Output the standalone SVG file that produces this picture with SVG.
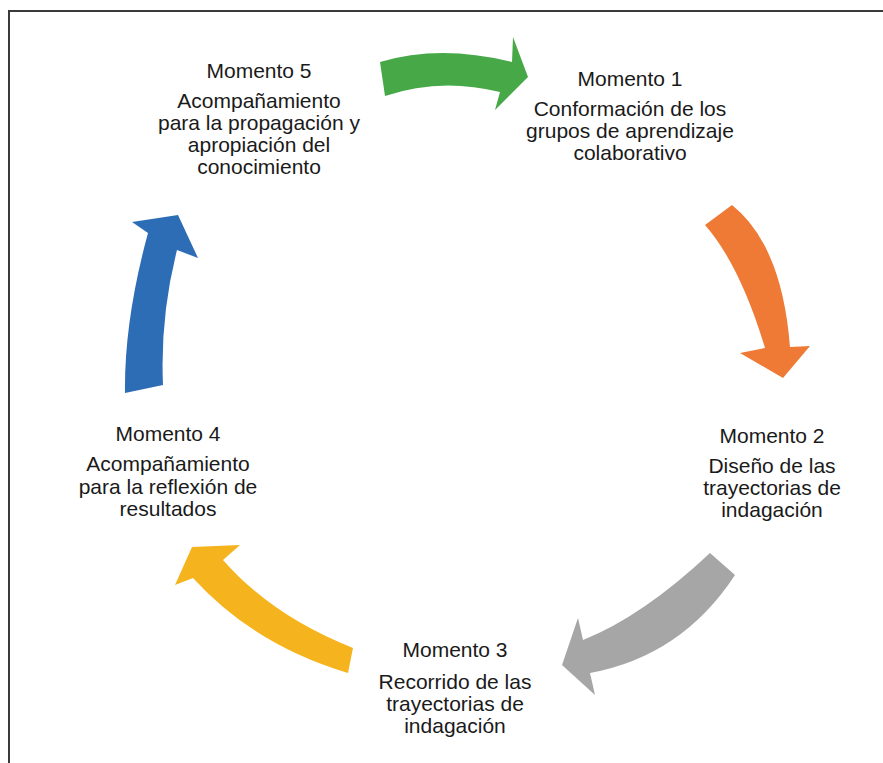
<svg xmlns="http://www.w3.org/2000/svg" width="883" height="763" viewBox="0 0 883 763">
<style>
  .t { font-family: "Liberation Sans", Arial, sans-serif; font-size: 21px; fill: #1a1a1a; text-anchor: middle; }
  .frame { stroke: #3a3a3a; stroke-width: 2; fill: none; }
</style>
<rect x="0" y="0" width="883" height="763" fill="#ffffff"/>
<path class="frame" d="M883,11 H9 V763"/>
<g id="connectors">
  <path id="arrow-5-1" fill="#47A847" d="M380,62 Q440,44 512,62 L513,37 L528,77 L495,110 L500,92 Q440,77 385,96 Z"/>
  <path id="arrow-1-2" fill="#EE7A35" d="M705,225 L732,205 Q782,245 790,347 L810,346 L783,378 L740,353 L765,348 Q740,265 705,225 Z"/>
  <path id="arrow-2-3" fill="#A6A6A6" d="M735,575 L710,553 Q643,616 583,640 L578,618 L562,665 L595,695 L590,673 Q682,656 735,575 Z"/>
  <path id="arrow-3-4" fill="#F5B41E" d="M348,673 L353,648 Q272,616 223,560 L240,545 L192,547 L175,585 L193,578 Q254,645 348,673 Z"/>
  <path id="arrow-4-5" fill="#2D6DB5" d="M125,393 Q124,321 148,233 L132,222 L178,215 L198,258 L177,250 Q160,317 163,385 Z"/>
</g>
<g id="momento1">
  <text class="t" x="630" y="86">Momento 1</text>
  <text class="t" x="630" y="116">Conformación de los</text>
  <text class="t" x="630" y="138">grupos de aprendizaje</text>
  <text class="t" x="630" y="160">colaborativo</text>
</g>
<g id="momento2">
  <text class="t" x="772" y="443">Momento 2</text>
  <text class="t" x="772" y="473">Diseño de las</text>
  <text class="t" x="772" y="495">trayectorias de</text>
  <text class="t" x="772" y="517">indagación</text>
</g>
<g id="momento3">
  <text class="t" x="455" y="657">Momento 3</text>
  <text class="t" x="455" y="689">Recorrido de las</text>
  <text class="t" x="455" y="711">trayectorias de</text>
  <text class="t" x="455" y="733">indagación</text>
</g>
<g id="momento4">
  <text class="t" x="168" y="441">Momento 4</text>
  <text class="t" x="168" y="471">Acompañamiento</text>
  <text class="t" x="168" y="494">para la reflexión de</text>
  <text class="t" x="168" y="516">resultados</text>
</g>
<g id="momento5">
  <text class="t" x="259" y="78">Momento 5</text>
  <text class="t" x="259" y="108">Acompañamiento</text>
  <text class="t" x="259" y="130">para la propagación y</text>
  <text class="t" x="259" y="152">apropiación del</text>
  <text class="t" x="259" y="174">conocimiento</text>
</g>
</svg>
